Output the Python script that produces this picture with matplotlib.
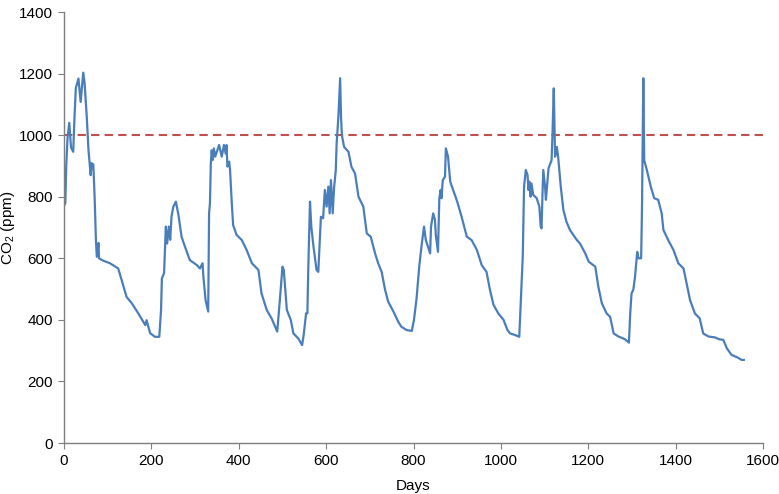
import matplotlib
matplotlib.use("Agg")
import matplotlib.pyplot as plt

# CO2 readings (day, ppm)
days = [0, 3, 5, 8, 12, 16, 21, 24, 27, 33, 38, 44, 47, 52, 56, 61, 63, 67, 70, 73, 75,
        79, 80, 90, 105, 124, 132, 143, 155, 170, 186, 189, 197, 208, 218,
        222, 224, 229, 233, 236, 240, 243, 246, 250, 256, 262, 269, 277, 288, 304, 311,
        317, 319, 324, 330, 332, 334, 336, 338, 340, 343, 346, 355, 361, 366, 370, 372,
        374, 378, 380, 384, 387, 395, 407, 418, 430, 445, 452, 464, 475, 488,
        494, 500, 503, 510, 519, 525, 536, 545, 549, 554, 557, 559, 563, 566, 571, 578,
        582, 588, 593, 597, 601, 605, 608, 611, 615, 618, 622, 624, 628, 632, 634, 636,
        641, 651, 658, 666, 674, 685, 693, 702, 712, 719, 727, 735, 742, 754, 765, 772,
        784, 796, 801, 807, 813, 819, 824, 828, 833, 838, 840, 845, 849, 851, 856, 859,
        862, 864, 867, 872, 874, 877, 879, 884, 892, 900, 910, 922, 933, 945, 956, 967,
        975, 983, 994, 1006, 1015, 1021, 1032, 1042, 1045, 1050, 1053, 1057, 1061, 1063,
        1065, 1068, 1070, 1074, 1082, 1088, 1091, 1093, 1095, 1097, 1101, 1103, 1109,
        1116, 1118, 1121, 1124, 1128, 1131, 1137, 1143, 1150, 1158, 1174, 1181, 1193,
        1201, 1216, 1223, 1231, 1242, 1250, 1258, 1269, 1284, 1293, 1296, 1299, 1303,
        1307, 1312, 1315, 1321, 1323, 1326, 1328, 1334, 1343, 1351, 1360, 1368, 1372,
        1383, 1395, 1406, 1418, 1433, 1444, 1455, 1463, 1475, 1490, 1500, 1509, 1517,
        1528, 1540, 1551, 1556]
co2 = [770, 780, 900, 990, 1040, 960, 946, 1060, 1153, 1184, 1108, 1203, 1170, 1060, 951, 870, 909, 905, 800, 659, 605,
       650, 600, 592, 584, 567, 529, 475, 454, 421, 383, 399, 357, 345, 345,
       430, 535, 552, 703, 648, 703, 660, 735, 767, 784, 740, 670, 637, 594, 578, 567,
       584, 540, 464, 427, 746, 779, 908, 951, 919, 957, 930, 968, 930, 968, 940, 968,
       898, 914, 887, 779, 708, 676, 659, 627, 584, 562, 486, 432, 405, 362,
       464, 573, 562, 432, 400, 356, 340, 318, 356, 421, 421, 562, 784, 703, 638, 562,
       556, 735, 730, 822, 768, 833, 746, 854, 746, 827, 886, 973, 1060, 1185, 1060, 1000,
       962, 946, 897, 876, 800, 768, 681, 670, 616, 584, 556, 497, 459, 427, 394, 378,
       367, 364, 400, 470, 573, 648, 703, 660, 638, 616, 703, 746, 725, 676, 621, 795,
       822, 795, 854, 865, 957, 941, 930, 849, 817, 784, 735, 670, 659, 627, 578, 556,
       497, 449, 421, 400, 367, 356, 351, 345, 443, 605, 833, 887, 870, 822,
       849, 800, 843, 806, 795, 768, 703, 697, 800, 887, 833, 790, 892,
       919, 1000, 1152, 930, 962, 930, 833, 757, 719, 692, 659, 648, 616,
       589, 573, 508, 454, 421, 410, 356, 346, 337, 326, 421, 486, 497,
       540, 621, 600, 600, 768, 1185, 919, 887, 833, 795, 790, 746, 692,
       659, 627, 584, 567, 464, 421, 405, 356, 346, 343, 337, 335, 308,
       286, 279, 270, 270]

threshold = 1000

plt.rcParams['font.family'] = ['Liberation Sans', 'DejaVu Sans']
plt.rcParams['mathtext.fontset'] = 'custom'
plt.rcParams['mathtext.rm'] = 'Liberation Sans'

fig = plt.figure(figsize=(7.79, 4.94), dpi=100)
ax = fig.add_axes([0.0822, 0.1032, 0.8973, 0.8725])

ax.axhline(threshold, color='#c0504d', linestyle=(0, (4, 2.5)), linewidth=1.5, zorder=1)
ax.plot(days, co2, color='#4a7ebb', linewidth=1.6, zorder=2)

ax.set_xlim(0, 1600)
ax.set_ylim(0, 1400)
ax.set_xticks(range(0, 1601, 200))
ax.set_yticks(range(0, 1401, 200))

for side in ['top', 'right']:
    ax.spines[side].set_visible(False)
for side in ['left', 'bottom']:
    ax.spines[side].set_color('#7f7f7f')
    ax.spines[side].set_linewidth(1.0)
ax.tick_params(direction='out', length=4, color='#7f7f7f', labelsize=11, pad=4)

ax.set_xlabel('Days', fontsize=11, labelpad=8)
ax.set_ylabel('CO$_2$ (ppm)', fontsize=11)
ax.yaxis.set_label_coords(-0.068, 0.5)

fig.savefig('out.png', dpi=100)
